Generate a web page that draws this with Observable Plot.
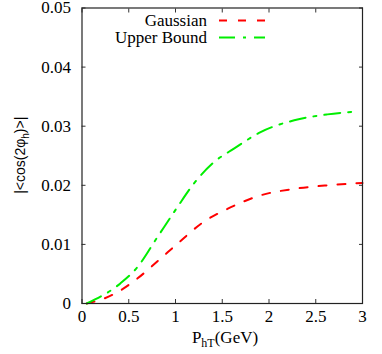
<!DOCTYPE html>
<html>
<head>
<meta charset="utf-8">
<script src="https://cdn.jsdelivr.net/npm/d3@7"></script>
<script src="https://cdn.jsdelivr.net/npm/@observablehq/plot@0.6"></script>
<style>
  html, body { margin: 0; padding: 0; background: #fff; }
  #chart svg { display: block; }
</style>
</head>
<body>
<div id="chart"></div>
<script>
const gaussX = [0.05, 0.23, 0.41, 0.59, 0.84, 1.02, 1.30, 1.555, 1.91, 2.27, 2.625, 3.0];
const gaussY = [0.0, 0.0008, 0.0022, 0.0042, 0.0076, 0.0101, 0.0138, 0.0160, 0.0183, 0.0194, 0.0200, 0.0204];
const upperX = [0.05, 0.41, 0.59, 0.805, 1.02, 1.197, 1.41, 1.625, 1.91, 2.27, 2.625, 2.95];
const upperY = [0.0, 0.0034, 0.0061, 0.0112, 0.0163, 0.0203, 0.0239, 0.0262, 0.0290, 0.0310, 0.0320, 0.0325];
const xTicks = [0, 0.5, 1, 1.5, 2, 2.5, 3];
const xTickLabels = ["0", "0.5", "1", "1.5", "2", "2.5", "3"];
const yTicks = [0, 0.01, 0.02, 0.03, 0.04, 0.05];
const yTickLabels = ["0", "0.01", "0.02", "0.03", "0.04", "0.05"];
const seriesNames = ["Gaussian", "Upper Bound"];

const gauss = gaussX.map((x, i) => ({x, y: gaussY[i]}));
const upper = upperX.map((x, i) => ({x, y: upperY[i]}));

const W = 382, H = 354;
const mL = 81.5, mR = 20, mT = 7.5, mB = 51;
const serif = "Liberation Serif";

const plot = Plot.plot({
  width: W,
  height: H,
  marginLeft: mL,
  marginRight: mR,
  marginTop: mT,
  marginBottom: mB,
  style: {fontSize: "17px", color: "#000", background: "#fff"},
  x: {domain: [0, 3]},
  y: {domain: [0, 0.05]},
  marks: [
    Plot.line(gauss, {x: "x", y: "y", curve: "monotone-x", stroke: "#ff0000", strokeWidth: 2, strokeDasharray: "8,11"}),
    Plot.line(upper, {x: "x", y: "y", curve: "monotone-x", stroke: "#00ee00", strokeWidth: 2, strokeDasharray: "16,8,3,8"}),
    Plot.axisX(xTicks, {anchor: "bottom", tickSize: -4, text: null, label: null, stroke: "#333"}),
    Plot.axisX(xTicks, {anchor: "top", tickSize: -4, text: null, label: null, stroke: "#333"}),
    Plot.axisY(yTicks, {anchor: "left", tickSize: -4, text: null, label: null, stroke: "#333"}),
    Plot.axisY(yTicks, {anchor: "right", tickSize: -4, text: null, label: null, stroke: "#333"}),
    Plot.text(xTicks, {x: d => d, frameAnchor: "bottom", lineAnchor: "top", dy: 6, text: (d, i) => xTickLabels[i], fontSize: 17, fontFamily: serif, fill: "#000"}),
    Plot.text(yTicks, {y: d => d, frameAnchor: "left", textAnchor: "end", dx: -11, text: (d, i) => yTickLabels[i], fontSize: 17, fontFamily: serif, fill: "#000"}),
    Plot.frame({stroke: "#222", strokeWidth: 1.2})
  ]
});

document.getElementById("chart").appendChild(plot);

const svg = d3.select(plot);

// Y axis label
const yl = svg.append("text")
  .attr("transform", `translate(25,${mT + (H - mT - mB) / 2}) rotate(-90)`)
  .attr("text-anchor", "middle")
  .style("font-family", "'Liberation Sans', Arial, sans-serif")
  .attr("font-size", 14)
  .attr("fill", "#000");
yl.append("tspan").text("|<cos(2\u03C6");
yl.append("tspan").attr("font-size", 10).attr("dy", 4).text("h");
yl.append("tspan").attr("dy", -4).text(")>|");

// X axis label
const xl = svg.append("text")
  .attr("x", 225)
  .attr("y", 343)
  .attr("text-anchor", "middle")
  .style("font-family", serif)
  .attr("font-size", 17)
  .attr("fill", "#000");
xl.append("tspan").text("P");
xl.append("tspan").attr("font-size", 12).attr("dy", 4).text("hT");
xl.append("tspan").attr("dy", -4).text("(GeV)");

// Legend
const legend = [
  {name: seriesNames[0], color: "#ff0000", dash: "8,11", y: 20.5},
  {name: seriesNames[1], color: "#00ee00", dash: "16,8,3,8", y: 37.5}
];
legend.forEach(l => {
  svg.append("text")
    .attr("x", 207).attr("y", l.y).attr("dy", "0.35em")
    .attr("text-anchor", "end")
    .style("font-family", serif)
    .attr("font-size", 17)
    .attr("fill", "#000")
    .text(l.name);
  svg.append("line")
    .attr("x1", 219).attr("x2", 265)
    .attr("y1", l.y).attr("y2", l.y)
    .attr("stroke", l.color).attr("stroke-width", 2)
    .attr("stroke-dasharray", l.dash);
});
</script>
</body>
</html>
